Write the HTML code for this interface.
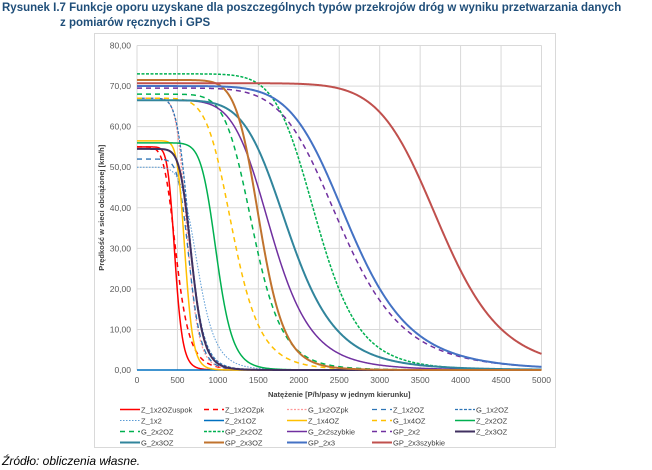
<!DOCTYPE html>
<html><head><meta charset="utf-8"><style>
body{margin:0;width:652px;height:470px;background:#fff;font-family:"Liberation Sans",sans-serif;overflow:hidden;position:relative}
.t{position:absolute;color:#1f4e79;font-weight:bold;font-size:11.5px;white-space:nowrap}
</style></head><body>
<div class="t" style="left:2px;top:2px">Rysunek I.7 Funkcje oporu uzyskane dla poszczególnych typów przekrojów dróg w wyniku przetwarzania danych</div>
<div class="t" style="left:60px;top:17px">z pomiarów ręcznych i GPS</div>
<div style="position:absolute;left:2px;top:454px;font-style:italic;font-size:12px;color:#000">Źródło: obliczenia własne.</div>
<svg id="c" width="652" height="470" style="position:absolute;left:0;top:0"></svg>
<script>
const names=["Z_1x2OZuspok","Z_1x2OZpk","G_1x2OZpk","Z_1x2OZ","G_1x2OZ","Z_1x2","Z_2x1OZ","Z_1x4OZ","G_1x4OZ","Z_2x2OZ","G_2x2OZ","GP_2x2OZ","G_2x2szybkie","GP_2x2","Z_2x3OZ","G_2x3OZ","GP_2x3OZ","GP_2x3","GP_2x3szybkie"];
const freeSpeed=[55,55,67,52,67,50,0,56.5,67,56,68,73,66.5,69.5,54.5,66.5,71.5,70,70.7];
const halfFlow=[470,490,620,650,650,755,1000,595,1190,986,1440,2225,1670,2534,677,1890,1520,2633,3750];
const steep=[10,6,9,9,8,7,8,12,7,10,8,8.5,6.8,6.6,9,6.5,10,7,9.8];
const colors=["#ff0000","#ff0000","#ff9999","#2e75b6","#2e75b6","#5b9bd5","#0070c0","#ffc000","#ffc000","#00b050","#00b050","#00b050","#7030a0","#7030a0","#403060","#31859c","#c0732e","#4472c4","#c0504d"];
const dash=["","5,4","2,1.5","5,4","3,1.5","1.5,1.5","","","5,4","","5,4","3,1.5","","5,4","","","","",""];
const widths=[1.5,1.5,1.3,1.3,1.3,1,1.5,1.5,1.5,1.5,1.5,1.5,1.5,1.5,2,2,2,2,2];
const yTicks=[0,10,20,30,40,50,60,70,80];
const xTicks=[0,500,1000,1500,2000,2500,3000,3500,4000,4500,5000];
const svg=document.getElementById('c');const NS='http://www.w3.org/2000/svg';
const X0=137,X1=541.5,Y0=370,Y1=45.5;
const xs=v=>X0+(X1-X0)*v/5000, ys=v=>Y0-(Y0-Y1)*v/80;
function mk(t,a,p){const e=document.createElementNS(NS,t);for(const k in a)e.setAttribute(k,a[k]);(p||svg).appendChild(e);return e;}
const fr=mk('rect',{x:94.5,y:33.5,width:461,height:414,fill:'#fff',stroke:'#d9d9d9'});


yTicks.forEach(v=>{const l=mk('line',{x1:X0,x2:X1,y1:ys(v),y2:ys(v),stroke:'#d9d9d9'});


const t=mk('text',{x:X0-6,y:ys(v)+3,'text-anchor':'end','font-size':'8.5',fill:'#595959'});t.textContent=v.toFixed(2).replace('.',',');

});
xTicks.forEach(v=>{const l=mk('line',{x1:xs(v),x2:xs(v),y1:Y1,y2:Y0,stroke:'#d9d9d9'});


const t=mk('text',{x:xs(v),y:Y0+13,'text-anchor':'middle','font-size':'8.5',fill:'#595959'});t.textContent=v;

});
const xt=mk('text',{x:(X0+X1)/2,y:Y0+27,'text-anchor':'middle','font-size':'7.5','font-weight':'bold',fill:'#404040'});xt.textContent='Natężenie [P/h/pasy w jednym kierunku]';


const yt=mk('text',{x:0,y:0,'text-anchor':'middle','font-size':'7.5','font-weight':'bold',fill:'#404040',transform:`translate(104,${(Y0+Y1)/2}) rotate(-90)`});yt.textContent='Prędkość w sieci obciążonej [km/h]';


names.forEach((n,i)=>{let d='';for(let q=0;q<=5000;q+=10){const v=freeSpeed[i]/(1+Math.pow(q/halfFlow[i],steep[i]));d+=(q?'L':'M')+xs(q).toFixed(2)+','+ys(v).toFixed(2);}
const p=mk('path',{d:d,fill:'none',stroke:colors[i],'stroke-width':widths[i],'stroke-dasharray':dash[i]});


const col=i%5,row=Math.floor(i/5);const lx=[120,204,287,372,455][col],ly=409.5+row*11;
const ll=mk('line',{x1:lx,x2:lx+20,y1:ly,y2:ly,stroke:colors[i],'stroke-width':widths[i],'stroke-dasharray':dash[i]});


const lt=mk('text',{x:lx+21,y:ly+3,'font-size':'7.5',fill:'#404040'});lt.textContent=n;

});
</script>
</body></html>
